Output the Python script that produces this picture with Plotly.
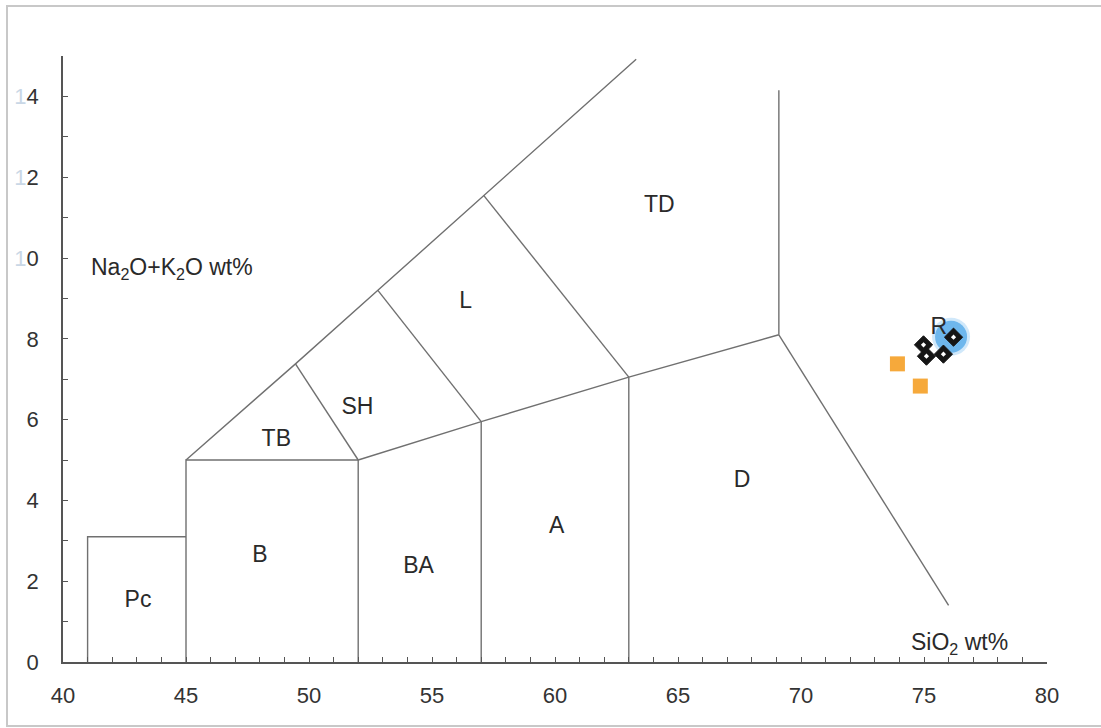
import plotly.graph_objects as go

# ---- data ----
# field boundary polylines (SiO2, Na2O+K2O)
outer_x = [45, 49.45, 52.8, 57.1, 63.3]
outer_y = [5, 7.38, 9.2, 11.55, 14.92]
pc_x = [41, 41, 45]
pc_y = [0, 3.1, 3.1]
b_x = [45, 45, 52]
b_y = [0, 5, 5]
ba_x = [52, 52]
ba_y = [0, 5]
a_x = [57, 57]
a_y = [0, 5.95]
d_x = [63, 63]
d_y = [0, 7.05]
tb_x = [49.45, 52]
tb_y = [7.38, 5]
sh_x = [52.8, 57]
sh_y = [9.2, 5.95]
l_x = [57.1, 63]
l_y = [11.55, 7.05]
base_x = [52, 57, 63, 69.1]
base_y = [5, 5.95, 7.05, 8.1]
dr_x = [69.1, 76]
dr_y = [8.1, 1.4]
vert_x = [69.1, 69.1]
vert_y = [8.1, 14.15]

field_names = ["Pc", "B", "BA", "A", "D", "TB", "SH", "L", "TD", "R"]
field_x = [43.05, 48.0, 54.45, 60.07, 67.6, 48.67, 51.97, 56.37, 64.24, 75.6]
field_y = [1.51, 2.62, 2.35, 3.34, 4.48, 5.5, 6.29, 8.91, 11.27, 8.26]

orange_x = [73.92, 74.85]
orange_y = [7.38, 6.83]
diamond_x = [74.98, 75.10, 75.79, 76.20]
diamond_y = [7.85, 7.57, 7.62, 8.04]
blue_x = [76.1]
blue_y = [8.05]

x_tickvals = [40, 45, 50, 55, 60, 65, 70, 75, 80]
x_ticktext = ["40", "45", "50", "55", "60", "65", "70", "75", "80"]
y_tickvals = [0, 2, 4, 6, 8, 10, 12, 14]
y_ticktext = ["0", "2", "4", "6", "8",
              "<span style='color:#c9d7e6'>1</span>0",
              "<span style='color:#c9d7e6'>1</span>2",
              "<span style='color:#c9d7e6'>1</span>4"]

FONT = "Liberation Sans, Arial, sans-serif"
LINE_COL = "#707070"
TXT_COL = "#2a2a2a"

fig = go.Figure()

segments = [(outer_x, outer_y), (pc_x, pc_y), (b_x, b_y), (ba_x, ba_y), (a_x, a_y),
            (d_x, d_y), (tb_x, tb_y), (sh_x, sh_y), (l_x, l_y), (base_x, base_y),
            (dr_x, dr_y), (vert_x, vert_y)]
for sx, sy in segments:
    fig.add_trace(go.Scatter(x=sx, y=sy, mode="lines",
                             line=dict(color=LINE_COL, width=1.4),
                             hoverinfo="skip", showlegend=False))

# soft halo + blue circle
fig.add_trace(go.Scatter(x=blue_x, y=blue_y, mode="markers",
                         marker=dict(symbol="circle", size=38, color="rgba(120,190,240,0.35)",
                                     line=dict(width=0)),
                         showlegend=False, hoverinfo="skip"))
fig.add_trace(go.Scatter(x=blue_x, y=blue_y, mode="markers",
                         marker=dict(symbol="circle", size=32, color="rgba(72,163,232,0.72)",
                                     line=dict(width=0)),
                         showlegend=False))
fig.add_trace(go.Scatter(x=orange_x, y=orange_y, mode="markers",
                         marker=dict(symbol="square", size=15, color="#f6a93b",
                                     line=dict(width=0)),
                         showlegend=False))

fig.add_trace(go.Scatter(x=field_x, y=field_y, mode="text", text=field_names,
                         textfont=dict(family=FONT, size=23, color=TXT_COL),
                         showlegend=False, hoverinfo="skip"))

fig.add_trace(go.Scatter(x=diamond_x, y=diamond_y, mode="markers",
                         marker=dict(symbol="diamond", size=14, color="#151515",
                                     line=dict(color="#151515", width=1)),
                         showlegend=False))
fig.add_trace(go.Scatter(x=diamond_x, y=diamond_y, mode="markers",
                         marker=dict(symbol="diamond", size=4, color="#ffffff",
                                     line=dict(width=0)),
                         showlegend=False, hoverinfo="skip"))

# axis titles placed inside the plot like the original
fig.add_annotation(x=41.06, y=9.75, xref="x", yref="y", xanchor="left", yanchor="middle",
                   text="Na<sub>2</sub>O+K<sub>2</sub>O wt%", showarrow=False,
                   font=dict(family=FONT, size=23, color=TXT_COL))
fig.add_annotation(x=74.4, y=0.47, xref="x", yref="y", xanchor="left", yanchor="middle",
                   text="SiO<sub>2</sub> wt%", showarrow=False,
                   font=dict(family=FONT, size=23, color=TXT_COL))

# thin frame around the picture
W, H = 1101, 728
L, R, T, B = 63, 54, 56, 66
pw, ph = W - L - R, H - T - B
fig.add_shape(type="rect", xref="paper", yref="paper",
              x0=(7 - L) / pw, x1=(W + 5 - L) / pw,
              y0=(H - B - 726) / ph, y1=(H - B - 6) / ph,
              line=dict(color="#c8c8c8", width=2), fillcolor="rgba(0,0,0,0)", layer="below")

fig.update_layout(
    width=W, height=H,
    margin=dict(l=L, r=R, t=T, b=B),
    paper_bgcolor="white", plot_bgcolor="white",
    font=dict(family=FONT, size=21, color="#333333"),
    showlegend=False,
)
fig.update_xaxes(range=[40, 80], showgrid=False, zeroline=False,
                 showline=True, linecolor="#555555", linewidth=1.5,
                 ticks="inside", ticklen=5, tickcolor="#555555",
                 tickvals=x_tickvals, ticktext=x_ticktext,
                 minor=dict(ticks="inside", ticklen=5, dtick=1, tick0=40, tickcolor="#555555"),
                 ticklabelstandoff=13,
                 tickfont=dict(family=FONT, size=22, color="#333333"))
fig.update_yaxes(range=[0, 15], showgrid=False, zeroline=False,
                 showline=True, linecolor="#555555", linewidth=1.5,
                 ticks="inside", ticklen=5, tickcolor="#555555",
                 tickvals=y_tickvals, ticktext=y_ticktext,
                 minor=dict(ticks="inside", ticklen=5, dtick=1, tick0=0, tickcolor="#555555"),
                 ticklabelstandoff=18,
                 tickfont=dict(family=FONT, size=22, color="#333333"))

fig.write_html("out.html")
